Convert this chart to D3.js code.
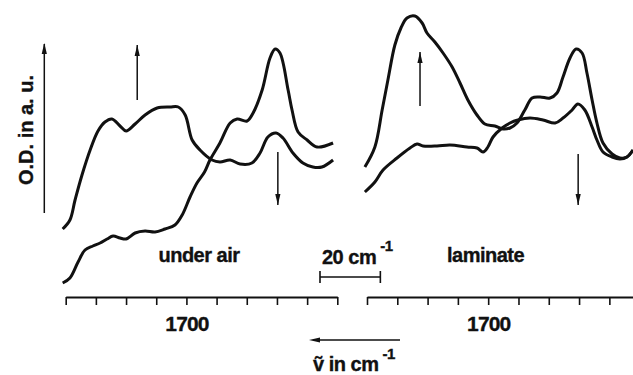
<!DOCTYPE html>
<html>
<head>
<meta charset="utf-8">
<script src="https://cdn.jsdelivr.net/npm/d3@7"></script>
<style>
body { margin: 0; background: #fff; }
text { font-family: "Liberation Sans", Arial, sans-serif; font-weight: bold; fill: #111; stroke: #111; stroke-width: 0.35px; }
</style>
</head>
<body>
<script>
var w = 633, h = 375;

/* wavenumber (cm-1) and O.D. (a.u.) */
var airUp = [[1741,0.71],[1738.6,0.80],[1736.9,1.00],[1734.6,1.25],[1731.9,1.50],[1729.3,1.69],[1727,1.78],
	[1724.7,1.81],[1722,1.74],[1720,1.69],[1717,1.76],[1713.7,1.85],[1709.7,1.92],[1705.4,1.93],[1702.7,1.93],
	[1700.4,1.85],[1698.1,1.60],[1695.5,1.50],[1691.5,1.40],[1688.9,1.38],[1685.5,1.40],[1682.2,1.36],[1678.3,1.37],
	[1675.6,1.47],[1673,1.63],[1670.3,1.67],[1668,1.62],[1664.7,1.47],[1661.4,1.37],[1658.1,1.33],[1655.1,1.33],[1651.4,1.40]];
var airDown = [[1741,0.17],[1738.6,0.22],[1735.9,0.38],[1733.6,0.50],[1731,0.54],[1728.6,0.57],[1726.3,0.61],
	[1724.3,0.64],[1722,0.62],[1720,0.61],[1717,0.67],[1713.7,0.69],[1710.4,0.68],[1707.1,0.71],[1703.8,0.75],
	[1701.4,0.85],[1698.8,1.03],[1696.5,1.17],[1694,1.28],[1692.2,1.40],[1688.9,1.57],[1685.5,1.77],[1683.2,1.81],
	[1679.9,1.79],[1677.9,1.87],[1674.9,2.10],[1672.3,2.42],[1670.6,2.51],[1669,2.47],[1666.3,2.10],[1665,1.90],
	[1663,1.68],[1660,1.60],[1656.7,1.53],[1651.4,1.57]];
var lamUp = [[1740.7,1.33],[1737.4,1.53],[1735,1.90],[1733.1,2.20],[1730.8,2.55],[1728.8,2.72],[1726.8,2.82],[1724.2,2.84],
	[1721.8,2.77],[1720.2,2.67],[1717.6,2.58],[1714.9,2.47],[1711.9,2.33],[1709.3,2.17],[1706.7,2.00],[1703.7,1.85],
	[1701.1,1.76],[1697.8,1.74],[1695.1,1.71],[1692.8,1.72],[1690.5,1.77],[1687.9,1.90],[1685.5,2.02],[1682.9,2.03],
	[1679.6,2.02],[1677.3,2.07],[1675.3,2.23],[1673,2.42],[1671,2.51],[1669,2.47],[1667.4,2.27],[1665.7,2.00],
	[1664.1,1.77],[1662.1,1.57],[1659.1,1.46],[1656.5,1.42],[1654.2,1.43],[1652.2,1.50]];
var lamDown = [[1740.7,1.08],[1737.4,1.18],[1734.7,1.30],[1730.1,1.42],[1725.8,1.52],[1723.5,1.56],[1721.5,1.54],
	[1716.9,1.54],[1712.6,1.55],[1707,1.53],[1703.7,1.52],[1701.7,1.48],[1700.1,1.53],[1698.4,1.63],[1695.4,1.72],
	[1692.8,1.77],[1690.2,1.80],[1686.2,1.82],[1681.9,1.80],[1677.9,1.77],[1675.3,1.82],[1672.3,1.90],[1670.4,1.96],
	[1668.1,1.90],[1665.7,1.73],[1664.1,1.60],[1662.1,1.48],[1659.1,1.43],[1656.5,1.41],[1654.2,1.43],[1652.2,1.50]];

var tickValues = [1740,1730,1720,1710,1700,1690,1680,1670,1660,1650];
var tickLabels = [1700];

/* arrows: [wavenumber, od from, od to] */
var airArrows = [[1716.3,2.00,2.55],[1669.7,1.48,0.95]];
var lamArrows = [[1722.5,1.94,2.48],[1670.3,1.46,0.95]];

var svg = d3.select("body")
	.append("svg")
	.attr("width", w)
	.attr("height", h);

/*Scales*/
var yScale = d3.scaleLinear().domain([0,3]).range([300,0]);
var xAir = d3.scaleLinear().domain([1740,1650]).range([65.7,337.3]);
var xLam = d3.scaleLinear().domain([1740,1652]).range([367,633.6]);

function arrowHead(g, x, y, dir) {
	var l = 11, hw = 2.6, pts;
	if (dir == "up") pts = [[x,y],[x-hw,y+l],[x+hw,y+l]];
	else if (dir == "down") pts = [[x,y],[x-hw,y-l],[x+hw,y-l]];
	else pts = [[x,y],[x+l,y-hw],[x+l,y+hw]];
	g.append("path").attr("d", "M" + pts.join("L") + "Z").attr("fill", "#111");
}

function panel(xScale, series, arrows, ticks) {
	var line = d3.line()
		.curve(d3.curveCatmullRom.alpha(0.5))
		.x(function(d) { return xScale(d[0]); })
		.y(function(d) { return yScale(d[1]); });
	svg.selectAll(null)
		.data(series)
		.enter()
		.append("path")
		.attr("d", line)
		.attr("fill", "none")
		.attr("stroke", "#111")
		.attr("stroke-width", 3)
		.attr("stroke-linejoin", "round");

	arrows.forEach(function(a) {
		var x = xScale(a[0]), y0 = yScale(a[1]), y1 = yScale(a[2]);
		svg.append("line")
			.attr("x1", x).attr("x2", x)
			.attr("y1", y0).attr("y2", y1)
			.attr("stroke", "#111").attr("stroke-width", 1.5);
		arrowHead(svg, x, y1, y1 < y0 ? "up" : "down");
	});

	var axis = d3.axisBottom(xScale)
		.tickValues(ticks)
		.tickSize(8)
		.tickSizeOuter(0)
		.tickPadding(11)
		.tickFormat(function(d) { return tickLabels.indexOf(d) >= 0 ? d : ""; });
	var g = svg.append("g")
		.attr("transform", "translate(0,297)")
		.call(axis);
	g.select(".domain").attr("stroke", "#111").attr("stroke-width", 2);
	g.selectAll(".tick line").attr("stroke", "#111").attr("stroke-width", 1.6);
	g.selectAll(".tick text")
		.attr("fill", "#111")
		.attr("stroke", "#111")
		.attr("stroke-width", 0.35)
		.style("font-size", "21px")
		.style("letter-spacing", "-0.9px")
		.style("font-family", "Liberation Sans, Arial, sans-serif")
		.style("font-weight", "bold");
}

panel(xAir, [airUp, airDown], airArrows, tickValues);
panel(xLam, [lamUp, lamDown], lamArrows, tickValues.slice(0,9));

/*Y axis arrow and label*/
svg.append("line")
	.attr("x1", 44.3).attr("x2", 44.3)
	.attr("y1", 213).attr("y2", 44)
	.attr("stroke", "#111").attr("stroke-width", 1.5);
arrowHead(svg, 44.3, 43, "up");
svg.append("text")
	.attr("transform", "translate(33,130) rotate(-90)")
	.attr("text-anchor", "middle")
	.style("font-size", "20px")
	.text("O.D. in a. u.");

/*panel labels*/
svg.append("text")
	.attr("x", 199).attr("y", 262)
	.attr("text-anchor", "middle")
	.style("font-size", "20px")
	.style("letter-spacing", "-0.5px")
	.text("under air");
svg.append("text")
	.attr("x", 447).attr("y", 262)
	.style("font-size", "20px")
	.style("letter-spacing", "-0.5px")
	.text("laminate");

/*scale bar 20 cm-1*/
var barX = 320, barW = xAir(1720) - xAir(1740);
svg.append("path")
	.attr("d", "M" + barX + ",271V283M" + barX + ",277H" + (barX + barW) + "M" + (barX + barW) + ",271V283")
	.attr("fill", "none").attr("stroke", "#111").attr("stroke-width", 1.6);
var sb = svg.append("text").attr("x", 322).attr("y", 264).style("font-size", "20px").style("letter-spacing", "-0.5px");
sb.append("tspan").text("20 cm");
sb.append("tspan").attr("dx", 4).attr("dy", -13).style("font-size", "15px").text("-1");

/*x direction arrow and label*/
svg.append("line")
	.attr("x1", 400).attr("x2", 318)
	.attr("y1", 340).attr("y2", 340)
	.attr("stroke", "#111").attr("stroke-width", 1.5);
arrowHead(svg, 309, 340, "left");
var xl = svg.append("text").attr("x", 313).attr("y", 371).style("font-size", "20px").style("letter-spacing", "-0.5px");
xl.append("tspan").text("\u1E7D in cm");
xl.append("tspan").attr("dx", 4).attr("dy", -12).style("font-size", "15px").text("-1");
</script>
</body>
</html>
